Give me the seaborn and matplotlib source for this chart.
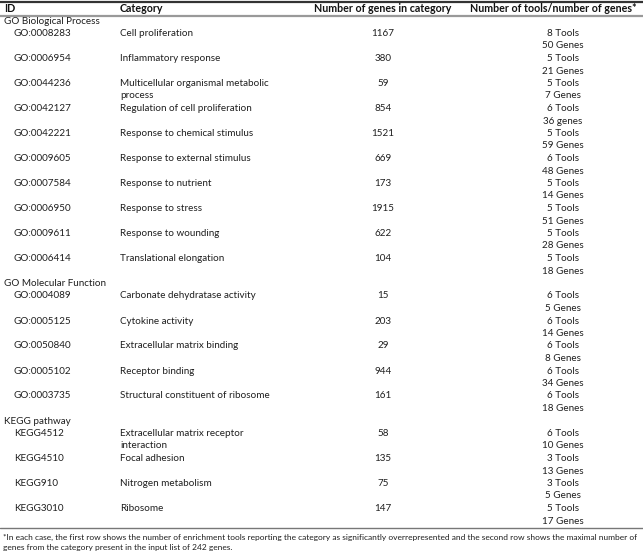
import matplotlib
matplotlib.use("Agg")
import matplotlib.pyplot as plt
import seaborn as sns

# =========================
# Table data
# =========================
groups = ["GO Biological Process", "GO Molecular Function", "KEGG pathway"]
group_sizes = [10, 5, 4]

ids = ["GO:0008283", "GO:0006954", "GO:0044236", "GO:0042127", "GO:0042221",
       "GO:0009605", "GO:0007584", "GO:0006950", "GO:0009611", "GO:0006414",
       "GO:0004089", "GO:0005125", "GO:0050840", "GO:0005102", "GO:0003735",
       "KEGG4512", "KEGG4510", "KEGG910", "KEGG3010"]
categories = ["Cell proliferation", "Inflammatory response",
              "Multicellular organismal metabolic\nprocess",
              "Regulation of cell proliferation", "Response to chemical stimulus",
              "Response to external stimulus", "Response to nutrient",
              "Response to stress", "Response to wounding", "Translational elongation",
              "Carbonate dehydratase activity", "Cytokine activity",
              "Extracellular matrix binding", "Receptor binding",
              "Structural constituent of ribosome",
              "Extracellular matrix receptor\ninteraction", "Focal adhesion",
              "Nitrogen metabolism", "Ribosome"]
n_genes = [1167, 380, 59, 854, 1521, 669, 173, 1915, 622, 104,
           15, 203, 29, 944, 161, 58, 135, 75, 147]
n_tools = [8, 5, 5, 6, 5, 6, 5, 5, 5, 5, 6, 6, 6, 6, 6, 6, 3, 3, 5]
n_found = [50, 21, 7, 36, 59, 48, 14, 51, 28, 18, 5, 14, 8, 34, 18, 10, 13, 5, 17]
genes_word = ["Genes"] * 19
genes_word[3] = "genes"

headers = ["ID", "Category", "Number of genes in category",
           "Number of tools/number of genes*"]
footnote = ("*In each case, the first row shows the number of enrichment tools reporting the category "
            "as significantly overrepresented and the second row shows the maximal number of\n"
            "genes from the category present in the input list of 242 genes.")

# =========================
# Layout
# =========================
sns.set_style("white")
plt.rcParams["font.family"] = ["Lato", "DejaVu Sans"]

W, H = 643, 552
fig = plt.figure(figsize=(W / 100, H / 100), dpi=100)
ax = fig.add_axes([0, 0, 1, 1])
ax.set_xlim(0, W)
ax.set_ylim(H, 0)
ax.axis("off")

FS = 7.1
LINE = 12.5
Y0 = 21
x_group, x_id, x_cat, x_num, x_tools = 4, 14, 120, 383, 563
txt = dict(fontsize=FS, color="#1f1f1f", va="center")
hdr = dict(fontsize=7.7, color="#111111", va="center", fontweight="bold")

# rules
ax.plot([0, W], [2, 2], color="#333333", lw=1.6)
ax.plot([0, W], [16, 16], color="#999999", lw=1.6)
ax.plot([0, W], [528, 528], color="#777777", lw=1.0)

# header
hy = 9
ax.text(4, hy, headers[0], **hdr)
ax.text(x_cat, hy, headers[1], **hdr)
ax.text(x_num, hy, headers[2], ha="center", **hdr)
ax.text(637, hy, headers[3], ha="right", **hdr)

line = 0
k = 0
for g, size in zip(groups, group_sizes):
    ax.text(x_group, Y0 + LINE * line, g, **txt)
    line += 1
    for _ in range(size):
        y1 = Y0 + LINE * line
        y2 = y1 + LINE
        cat_lines = categories[k].split("\n")
        ax.text(x_id, y1, ids[k], **txt)
        ax.text(x_cat, y1, cat_lines[0], **txt)
        if len(cat_lines) > 1:
            ax.text(x_cat, y2, cat_lines[1], **txt)
        ax.text(x_num, y1, str(n_genes[k]), ha="center", **txt)
        ax.text(x_tools, y1, f"{n_tools[k]} Tools", ha="center", **txt)
        ax.text(x_tools, y2, f"{n_found[k]} {genes_word[k]}", ha="center", **txt)
        line += 2
        k += 1

ax.text(3, 542.5, footnote, fontsize=6.05, color="#1f1f1f", va="center", linespacing=1.45)

fig.savefig("out.png", dpi=100)
plt.close(fig)
